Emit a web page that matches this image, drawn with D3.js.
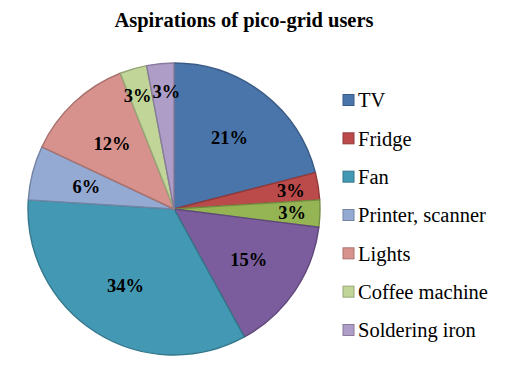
<!DOCTYPE html>
<html>
<head>
<meta charset="utf-8">
<script src="https://cdn.jsdelivr.net/npm/d3@7"></script>
<style>
body{margin:0;background:#fff}
</style>
</head>
<body>
<main></main>
<script>
// slices in drawing order, clockwise from 12 o'clock
const categories=["TV","Fridge","","","Fan","Printer, scanner","Lights","Coffee machine","Soldering iron"]
const shares=[21,3,3,15,34,6,12,3,3]
const colors=["#4a75ab","#bb4b4a","#95b454","#7b5d9d","#4399b3","#94aad3","#d8928e","#c1d598","#ae9ec7"]
const title="Aspirations  of pico-grid  users"

const w=526, h=365
const cx=174, cy=209, r=146

const svg=d3.select("main")
  .append("svg")
  .attr("width",w)
  .attr("height",h)
  .style("font-family","'Liberation Serif','Times New Roman',serif")

svg.append("text")
  .attr("x",244)
  .attr("y",27)
  .attr("text-anchor","middle")
  .style("font-weight","bold")
  .style("font-size","20.5px")
  .text(title)

const pie=d3.pie().sort(null).value(d=>d)
const arcs=pie(shares)
const arc=d3.arc().innerRadius(0).outerRadius(r)

const g=svg.append("g").attr("transform","translate("+cx+","+cy+")")

g.selectAll("path")
  .data(arcs)
  .enter()
  .append("path")
  .attr("d",arc)
  .attr("fill",(d,i)=>colors[i])
  .attr("stroke",(d,i)=>d3.color(colors[i]).darker(0.7))
  .attr("stroke-width",1.4)
  .attr("stroke-linejoin","round")

// big slices get labels near 0.62 r, thin ones pushed out to 0.81 r
const fs=18.5
const pos=arcs.map(d=>{
  const k=(d.value<5?0.81:0.62)*r
  return d3.arc().innerRadius(k).outerRadius(k).centroid(d)
})
// nudge neighbouring labels sideways if they sit on the same line
for(let i=1;i<pos.length;i++){
  const a=pos[i-1], b=pos[i]
  const lw=1.5*fs
  if(Math.abs(a[1]-b[1])<fs*0.8 && Math.abs(a[0]-b[0])<lw){
    const push=(lw-Math.abs(a[0]-b[0]))/2+0.5
    const s=a[0]<b[0]?1:-1
    a[0]-=s*push
    b[0]+=s*push
  }
}

g.selectAll("text.pct")
  .data(arcs)
  .enter()
  .append("text")
  .attr("class","pct")
  .attr("x",(d,i)=>pos[i][0])
  .attr("y",(d,i)=>pos[i][1])
  .attr("dy","0.35em")
  .attr("text-anchor","middle")
  .style("font-weight","bold")
  .style("font-size",fs+"px")
  .text(d=>d.value+"%")

const legendItems=categories.map((c,i)=>({name:c,color:colors[i]})).filter(d=>d.name!=="")
const ly=d3.scalePoint()
  .domain(legendItems.map(d=>d.name))
  .range([100,330])

const legend=svg.selectAll("g.leg")
  .data(legendItems)
  .enter()
  .append("g")
  .attr("class","leg")
  .attr("transform",d=>"translate(343,"+ly(d.name)+")")

legend.append("rect")
  .attr("x",0)
  .attr("y",-5.5)
  .attr("width",11)
  .attr("height",11)
  .attr("fill",d=>d.color)
  .attr("stroke",d=>d3.color(d.color).darker(0.7))
  .attr("stroke-width",1)

legend.append("text")
  .attr("x",15)
  .attr("y",0)
  .attr("dy","0.35em")
  .style("font-size","20.5px")
  .text(d=>d.name)
</script>
</body>
</html>
